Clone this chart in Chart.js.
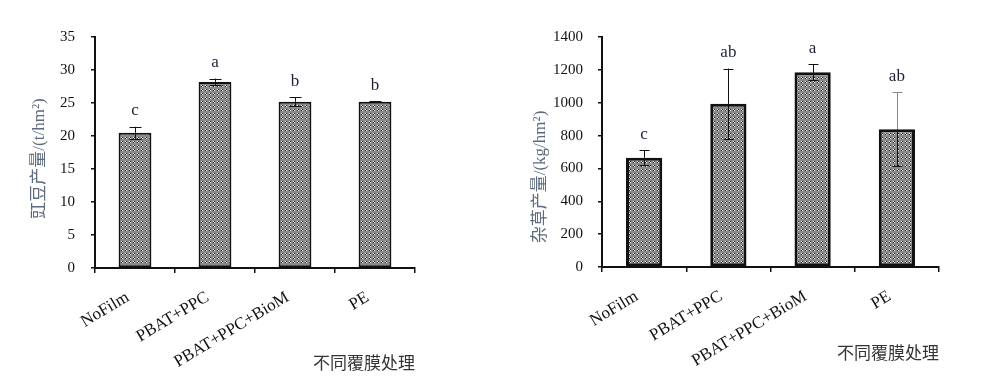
<!DOCTYPE html>
<html>
<head>
<meta charset="utf-8">
<script src="https://cdn.jsdelivr.net/npm/chart.js@4"></script>
<style>
  body { margin: 0; background: #fff; }
  .box { position: absolute; top: 0; height: 377px; }
  #left-box { left: 0; width: 480px; }
  #right-box { left: 500px; width: 500px; }
</style>
</head>
<body>
<div class="box" id="left-box"><canvas id="cowpea-chart" width="480" height="377"></canvas></div>
<div class="box" id="right-box"><canvas id="weed-chart" width="500" height="377"></canvas></div>
<script>
// Data
const categories = ['NoFilm', 'PBAT+PPC', 'PBAT+PPC+BioM', 'PE'];

const cowpeaYield = [20.5, 28.2, 25.2, 25.2];
const cowpeaErr = [0.9, 0.5, 0.65, 0.05];
const cowpeaLetters = ['c', 'a', 'b', 'b'];

const weedYield = [665, 993, 1186, 838];
const weedErr = [45, 215, 48, 225];
const weedLetters = ['c', 'ab', 'a', 'ab'];

const serif = '"Liberation Serif", "Times New Roman", "Noto Sans CJK SC", serif';

// Checkered grey fill like the original bars
function makePattern() {
  const tile = document.createElement('canvas');
  tile.width = 4;
  tile.height = 4;
  const t = tile.getContext('2d');
  const G = '#8a8a8a', W = '#f4f4f4', K = '#1a1a1a';
  const cells = [
    [G, G, G, G],
    [G, W, K, G],
    [G, K, W, G],
    [G, G, G, G],
  ];
  cells.forEach((row, y) => row.forEach((c, x) => {
    t.fillStyle = c;
    t.fillRect(x, y, 1, 1);
  }));
  return t.createPattern(tile, 'repeat');
}

// Error bars and significance letters, placed through the chart's own scales
const errorBarPlugin = {
  id: 'errorBars',
  afterDatasetsDraw(chart, args, opts) {
    const ctx = chart.ctx;
    const meta = chart.getDatasetMeta(0);
    const yScale = chart.scales.y;
    const values = chart.data.datasets[0].data;
    ctx.save();
    meta.data.forEach((bar, i) => {
      const v = values[i];
      const e = opts.errors[i];
      const yTop = yScale.getPixelForValue(v + e);
      const yBot = yScale.getPixelForValue(v - e);
      const yVal = yScale.getPixelForValue(v);
      const x = Math.round(bar.x) + 0.5;
      const half = opts.capWidth / 2;
      ctx.lineWidth = 1;
      // upper whisker
      ctx.strokeStyle = opts.upperColors[i];
      ctx.beginPath();
      ctx.moveTo(x, yTop);
      ctx.lineTo(x, yVal);
      ctx.moveTo(x - half, Math.round(yTop) + 0.5);
      ctx.lineTo(x + half, Math.round(yTop) + 0.5);
      ctx.stroke();
      // lower whisker, inside the bar
      ctx.strokeStyle = '#111';
      ctx.beginPath();
      ctx.moveTo(x, yVal);
      ctx.lineTo(x, yBot);
      ctx.moveTo(x - half, Math.round(yBot) + 0.5);
      ctx.lineTo(x + half, Math.round(yBot) + 0.5);
      ctx.stroke();

      ctx.fillStyle = '#1c2035';
      ctx.font = '17px ' + serif;
      ctx.textAlign = 'center';
      ctx.textBaseline = 'middle';
      ctx.fillText(opts.letters[i], bar.x, yTop - 16);
    });
    ctx.restore();
  },
};

// Rotated y title, placed relative to the plot area like the original
const yTitlePlugin = {
  id: 'yTitle',
  afterDraw(chart, args, opts) {
    const ctx = chart.ctx;
    const area = chart.chartArea;
    ctx.save();
    ctx.translate(opts.x, (area.top + area.bottom) / 2 + opts.shift);
    ctx.rotate(-Math.PI / 2);
    ctx.fillStyle = '#5d6b7e';
    ctx.font = '17px ' + serif;
    ctx.textAlign = 'center';
    ctx.textBaseline = 'middle';
    ctx.fillText(opts.text, 0, 0);
    ctx.restore();
  },
};

// Function to create one bar panel
function createBarChart(canvasId, values, opts) {
  const ctx = document.getElementById(canvasId).getContext('2d');
  return new Chart(ctx, {
    type: 'bar',
    data: {
      labels: categories,
      datasets: [{
        data: values,
        backgroundColor: makePattern(),
        borderColor: '#111',
        borderWidth: opts.barBorder,
        borderSkipped: false,
        categoryPercentage: 1,
        barPercentage: opts.barPct,
      }],
    },
    options: {
      responsive: false,
      animation: false,
      layout: { padding: { left: 0, top: opts.top, right: opts.right, bottom: 0 } },
      plugins: {
        legend: { display: false },
        tooltip: { enabled: false },
        errorBars: {
          errors: opts.errors,
          letters: opts.letters,
          capWidth: opts.cap,
          upperColors: opts.upperColors,
        },
        yTitle: { text: opts.yTitle, x: opts.yTitleX, shift: opts.yTitleShift },
      },
      scales: {
        x: {
          grid: {
            display: true,
            drawOnChartArea: false,
            drawTicks: true,
            tickLength: 5,
            color: '#111',
            lineWidth: 1.5,
            offset: true,
          },
          border: { display: true, color: '#111', width: 2 },
          ticks: {
            autoSkip: false,
            minRotation: 31,
            maxRotation: 31,
            padding: 10,
            color: '#111',
            font: { family: serif, size: 17 },
            // trailing spaces nudge the rotated labels left, as in the original
            callback(value) {
              return this.getLabelForValue(value) + '  ';
            },
          },
          title: {
            display: true,
            text: '不同覆膜处理',
            align: 'end',
            color: '#333',
            font: { family: serif, size: 17 },
            padding: { top: 0, bottom: opts.xTitlePad },
          },
          afterFit(scale) {
            scale.height = opts.xHeight;
          },
        },
        y: {
          min: 0,
          max: opts.max,
          ticks: {
            stepSize: opts.step,
            padding: opts.tickPad,
            color: '#111',
            font: { family: serif, size: 15 },
            callback: (value) => String(value),
          },
          grid: {
            drawOnChartArea: false,
            drawTicks: true,
            tickLength: 4,
            color: '#111',
            lineWidth: 1.5,
          },
          border: { display: true, color: '#111', width: 2 },
          afterFit(scale) {
            scale.width = opts.yWidth;
          },
        },
      },
    },
    plugins: [errorBarPlugin, yTitlePlugin],
  });
}

const cowpeaChart = createBarChart('cowpea-chart', cowpeaYield, {
  errors: cowpeaErr,
  letters: cowpeaLetters,
  upperColors: ['#111', '#111', '#111', '#111'],
  max: 35,
  step: 5,
  yTitle: '豇豆产量/(t/hm²)',
  yTitleX: 40,
  yTitleShift: 6,
  top: 37,
  right: 65,
  yWidth: 95,
  xHeight: 109,
  xTitlePad: 2,
  tickPad: 16,
  barPct: 0.41,
  barBorder: 2,
  cap: 12,
});

const weedChart = createBarChart('weed-chart', weedYield, {
  errors: weedErr,
  letters: weedLetters,
  upperColors: ['#111', '#111', '#111', '#888'],
  max: 1400,
  step: 200,
  yTitle: '杂草产量/(kg/hm²)',
  yTitleX: 41,
  yTitleShift: 25,
  top: 37,
  right: 61,
  yWidth: 102,
  xHeight: 110,
  xTitlePad: 12,
  tickPad: 15,
  barPct: 0.43,
  barBorder: 3,
  cap: 10,
});
</script>
</body>
</html>
